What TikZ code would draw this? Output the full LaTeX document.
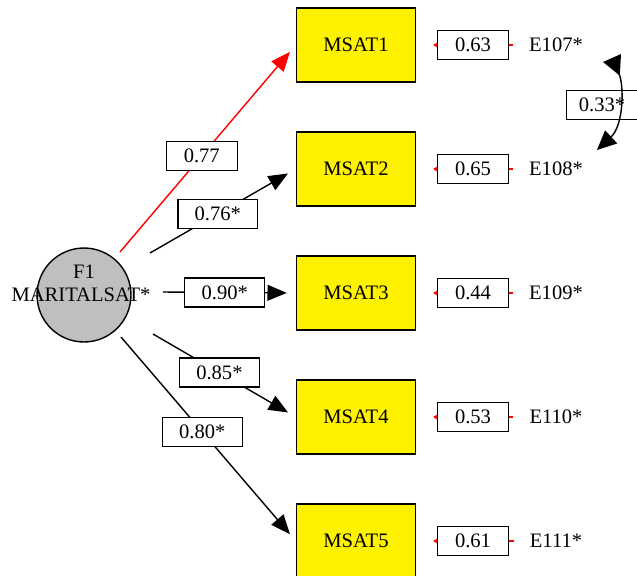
\documentclass[tikz,border=0pt]{standalone}
\usepackage{fontspec}
\setmainfont{Liberation Serif}
\usetikzlibrary{arrows.meta}

\begin{document}
\begin{tikzpicture}[x=0.02cm,y=-0.02cm,font=\fontsize{11.7}{14}\selectfont,
  msat/.style={draw,line width=0.8pt,fill=yellow,minimum width=2.38cm,minimum height=1.48cm,inner sep=0pt},
  coef/.style={draw=black,text=black,line width=0.8pt,fill=white,minimum width=1.42cm,minimum height=0.58cm,inner sep=0pt},
  coefs/.style={coef,minimum width=1.6cm},
  load/.style={line width=0.8pt,-{Triangle[length=11pt,width=9pt]},shorten >=0.18cm},
  err/.style={red,line width=0.6pt,-{Triangle[length=3pt,width=3.5pt]},shorten <=0.2cm,shorten >=0.34cm}]
\useasboundingbox (0,0) rectangle (637,576);
% factor
\node[circle,draw,line width=0.8pt,fill=gray!50,minimum size=1.88cm] (f1) at (84,295) {};
\node (f1name) at (84,272) {F1};
\node (f1lab) at (81,295) {MARITALSAT*};
% indicators and errors
\foreach \i/\y/\e/\v in {1/45/107/0.63,2/169/108/0.65,3/293/109/0.44,4/417/110/0.53,5/541/111/0.61}{
\node[msat] (m\i) at (356,\y) {MSAT\i};
\node (e\i) at (556,\y) {E\e*};
\draw[err] (e\i.west) -- (m\i.east);
\node[coef] (c\i) at (473,\y) {\v};
}
% loadings
\coordinate (s1) at (120,252);
\coordinate (s2) at (150,253);
\coordinate (s3) at (163,292);
\coordinate (s4) at (153,334);
\coordinate (s5) at (121,337);
\draw[load,red] (s1) -- (m1.west) node[coef,pos=0.465] {0.77};
\foreach \i/\v in {2/0.76*,3/0.90*,4/0.85*,5/0.80*}
\draw[load] (s\i) -- (m\i.west) node[coefs,pos=0.465] {\v};
% error covariance
\node[coef] (cov) at (602,105) {0.33*};
\coordinate (v1) at (612,58);
\coordinate (v2) at (597,150);
\draw[line width=0.8pt,{Triangle[length=11pt,width=11pt,reversed]}-{Triangle[length=11pt,width=10pt]}]
  (v1) .. controls (624,85) and (624,125) .. (v2);
\end{tikzpicture}
\end{document}
